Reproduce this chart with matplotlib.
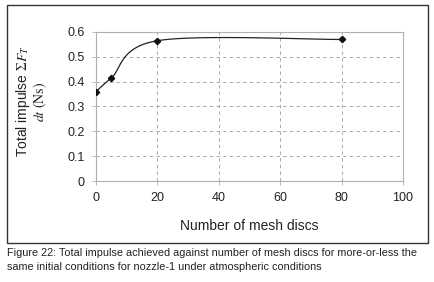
import numpy as np
import matplotlib.pyplot as plt
from matplotlib.patches import Rectangle

plt.rcParams['font.family'] = ['Liberation Sans', 'DejaVu Sans']
plt.rcParams['mathtext.fontset'] = 'stix'

discs = [0, 5, 20, 80]
impulse = [0.36, 0.415, 0.565, 0.57]
x_ticks = [0, 20, 40, 60, 80, 100]
y_ticks = [0, 0.1, 0.2, 0.3, 0.4, 0.5, 0.6]
caption = ("Figure 22: Total impulse achieved against number of mesh discs for more-or-less the\n"
           "same initial conditions for nozzle-1 under atmospheric conditions")


def smooth(xs, ys, n=40):
    # excel style smoothed line (bezier through the points)
    pts = np.array(list(zip(xs, ys)), dtype=float)
    out = []
    for i in range(len(pts) - 1):
        p0 = pts[max(i - 1, 0)]
        p1 = pts[i]
        p2 = pts[i + 1]
        p3 = pts[min(i + 2, len(pts) - 1)]
        c1 = p1 + (p2 - p0) / 6
        c2 = p2 - (p3 - p1) / 6
        t = np.linspace(0, 1, n)[:, None]
        seg = (1 - t)**3 * p1 + 3 * (1 - t)**2 * t * c1 + 3 * (1 - t) * t**2 * c2 + t**3 * p2
        out.append(seg)
    out = np.vstack(out)
    return out[:, 0], out[:, 1]


W, H = 434, 282
fig = plt.figure(figsize=(W / 100, H / 100), dpi=100)
ax = fig.add_axes([96 / W, 1 - 181 / H, (403 - 96) / W, (181 - 32) / H])

sx, sy = smooth(discs, impulse)
ax.plot(sx, sy, color='#222222', lw=0.9, zorder=3)
ax.plot(discs, impulse, 'D', color='#111111', ms=3.2, zorder=4)

ax.set_xlim(0, 100)
ax.set_ylim(0, 0.6)
ax.set_xticks(x_ticks)
ax.set_yticks(y_ticks)
ax.set_xticklabels([str(v) for v in x_ticks])
ax.set_yticklabels(['0'] + ['%.1f' % v for v in y_ticks[1:]])
ax.grid(True, color='#9a9a9a', ls=(0, (4, 4)), lw=0.6)
for s in ax.spines.values():
    s.set_color('#b0b0b0')
    s.set_linewidth(0.8)
ax.tick_params(labelsize=9, length=3, width=0.6, color='#b0b0b0', pad=5, labelcolor='#222222')

ax.set_xlabel('Number of mesh discs', fontsize=10, labelpad=11, color='#222222')
ax.set_ylabel('Total impulse $\\Sigma F_T$\n$dt\\ \\mathrm{(Ns)}$', fontsize=10,
              color='#222222', linespacing=1.0)
ax.yaxis.set_label_coords(-0.153, 0.534)

fig.patches.append(Rectangle((7 / W, 1 - 243 / H), (428 - 7) / W, (243 - 5) / H,
                             transform=fig.transFigure, fill=False, ec='#333333', lw=1.0))
fig.text(7 / W, 1 - 248 / H, caption, fontsize=7.8, va='top', ha='left',
         color='#222222', linespacing=1.45)

fig.savefig('out.png', dpi=100)
